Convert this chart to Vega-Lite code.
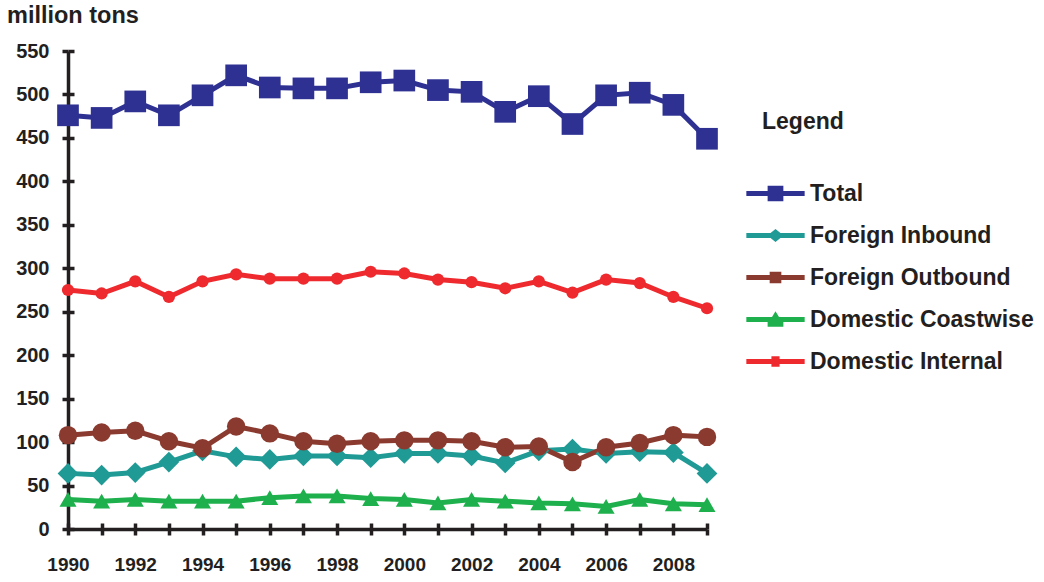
{
  "$schema": "https://vega.github.io/schema/vega-lite/v6.json",
  "width": 639,
  "height": 478,
  "autosize": {"type": "none"},
  "padding": {"left": 68, "top": 51, "right": 337, "bottom": 53},
  "background": "white",
  "config": {
    "view": {"stroke": null},
    "font": "Liberation Sans",
    "axis": {
      "domainColor": "#231F20",
      "domainWidth": 3.5,
      "tickColor": "#231F20",
      "tickWidth": 3.5,
      "tickSize": 6,
      "labelFont": "Liberation Sans",
      "labelFontWeight": "bold",
      "labelFontSize": 19,
      "labelColor": "#231F20",
      "grid": false
    }
  },
  "title": {
    "text": "million tons",
    "anchor": "start",
    "frame": "group",
    "dx": -61,
    "offset": 14,
    "font": "Liberation Sans",
    "fontSize": 23.5,
    "fontWeight": "bold",
    "color": "#231F20"
  },
  "data": {
    "values": [
      {"year": 1990, "series": "Total", "value": 476},
      {"year": 1991, "series": "Total", "value": 473},
      {"year": 1992, "series": "Total", "value": 492},
      {"year": 1993, "series": "Total", "value": 476},
      {"year": 1994, "series": "Total", "value": 499},
      {"year": 1995, "series": "Total", "value": 522},
      {"year": 1996, "series": "Total", "value": 508},
      {"year": 1997, "series": "Total", "value": 507},
      {"year": 1998, "series": "Total", "value": 507},
      {"year": 1999, "series": "Total", "value": 514},
      {"year": 2000, "series": "Total", "value": 516},
      {"year": 2001, "series": "Total", "value": 505},
      {"year": 2002, "series": "Total", "value": 503},
      {"year": 2003, "series": "Total", "value": 480},
      {"year": 2004, "series": "Total", "value": 498},
      {"year": 2005, "series": "Total", "value": 466},
      {"year": 2006, "series": "Total", "value": 499},
      {"year": 2007, "series": "Total", "value": 502},
      {"year": 2008, "series": "Total", "value": 488},
      {"year": 2009, "series": "Total", "value": 449},
      {"year": 1990, "series": "Foreign Inbound", "value": 64},
      {"year": 1991, "series": "Foreign Inbound", "value": 62},
      {"year": 1992, "series": "Foreign Inbound", "value": 65},
      {"year": 1993, "series": "Foreign Inbound", "value": 77},
      {"year": 1994, "series": "Foreign Inbound", "value": 90},
      {"year": 1995, "series": "Foreign Inbound", "value": 83},
      {"year": 1996, "series": "Foreign Inbound", "value": 80},
      {"year": 1997, "series": "Foreign Inbound", "value": 84},
      {"year": 1998, "series": "Foreign Inbound", "value": 84},
      {"year": 1999, "series": "Foreign Inbound", "value": 82},
      {"year": 2000, "series": "Foreign Inbound", "value": 87},
      {"year": 2001, "series": "Foreign Inbound", "value": 87},
      {"year": 2002, "series": "Foreign Inbound", "value": 84},
      {"year": 2003, "series": "Foreign Inbound", "value": 76},
      {"year": 2004, "series": "Foreign Inbound", "value": 90},
      {"year": 2005, "series": "Foreign Inbound", "value": 92},
      {"year": 2006, "series": "Foreign Inbound", "value": 87},
      {"year": 2007, "series": "Foreign Inbound", "value": 89},
      {"year": 2008, "series": "Foreign Inbound", "value": 88},
      {"year": 2009, "series": "Foreign Inbound", "value": 64},
      {"year": 1990, "series": "Foreign Outbound", "value": 108},
      {"year": 1991, "series": "Foreign Outbound", "value": 111},
      {"year": 1992, "series": "Foreign Outbound", "value": 113},
      {"year": 1993, "series": "Foreign Outbound", "value": 101},
      {"year": 1994, "series": "Foreign Outbound", "value": 93},
      {"year": 1995, "series": "Foreign Outbound", "value": 118},
      {"year": 1996, "series": "Foreign Outbound", "value": 110},
      {"year": 1997, "series": "Foreign Outbound", "value": 101},
      {"year": 1998, "series": "Foreign Outbound", "value": 98},
      {"year": 1999, "series": "Foreign Outbound", "value": 101},
      {"year": 2000, "series": "Foreign Outbound", "value": 102},
      {"year": 2001, "series": "Foreign Outbound", "value": 102},
      {"year": 2002, "series": "Foreign Outbound", "value": 101},
      {"year": 2003, "series": "Foreign Outbound", "value": 94},
      {"year": 2004, "series": "Foreign Outbound", "value": 95},
      {"year": 2005, "series": "Foreign Outbound", "value": 77},
      {"year": 2006, "series": "Foreign Outbound", "value": 94},
      {"year": 2007, "series": "Foreign Outbound", "value": 99},
      {"year": 2008, "series": "Foreign Outbound", "value": 108},
      {"year": 2009, "series": "Foreign Outbound", "value": 106},
      {"year": 1990, "series": "Domestic Coastwise", "value": 34},
      {"year": 1991, "series": "Domestic Coastwise", "value": 32},
      {"year": 1992, "series": "Domestic Coastwise", "value": 34},
      {"year": 1993, "series": "Domestic Coastwise", "value": 32},
      {"year": 1994, "series": "Domestic Coastwise", "value": 32},
      {"year": 1995, "series": "Domestic Coastwise", "value": 32},
      {"year": 1996, "series": "Domestic Coastwise", "value": 36},
      {"year": 1997, "series": "Domestic Coastwise", "value": 38},
      {"year": 1998, "series": "Domestic Coastwise", "value": 38},
      {"year": 1999, "series": "Domestic Coastwise", "value": 35},
      {"year": 2000, "series": "Domestic Coastwise", "value": 34},
      {"year": 2001, "series": "Domestic Coastwise", "value": 30},
      {"year": 2002, "series": "Domestic Coastwise", "value": 34},
      {"year": 2003, "series": "Domestic Coastwise", "value": 32},
      {"year": 2004, "series": "Domestic Coastwise", "value": 30},
      {"year": 2005, "series": "Domestic Coastwise", "value": 29},
      {"year": 2006, "series": "Domestic Coastwise", "value": 26},
      {"year": 2007, "series": "Domestic Coastwise", "value": 34},
      {"year": 2008, "series": "Domestic Coastwise", "value": 29},
      {"year": 2009, "series": "Domestic Coastwise", "value": 28},
      {"year": 1990, "series": "Domestic Internal", "value": 275},
      {"year": 1991, "series": "Domestic Internal", "value": 271},
      {"year": 1992, "series": "Domestic Internal", "value": 285},
      {"year": 1993, "series": "Domestic Internal", "value": 267},
      {"year": 1994, "series": "Domestic Internal", "value": 285},
      {"year": 1995, "series": "Domestic Internal", "value": 293},
      {"year": 1996, "series": "Domestic Internal", "value": 288},
      {"year": 1997, "series": "Domestic Internal", "value": 288},
      {"year": 1998, "series": "Domestic Internal", "value": 288},
      {"year": 1999, "series": "Domestic Internal", "value": 296},
      {"year": 2000, "series": "Domestic Internal", "value": 294},
      {"year": 2001, "series": "Domestic Internal", "value": 287},
      {"year": 2002, "series": "Domestic Internal", "value": 284},
      {"year": 2003, "series": "Domestic Internal", "value": 277},
      {"year": 2004, "series": "Domestic Internal", "value": 285},
      {"year": 2005, "series": "Domestic Internal", "value": 272},
      {"year": 2006, "series": "Domestic Internal", "value": 287},
      {"year": 2007, "series": "Domestic Internal", "value": 283},
      {"year": 2008, "series": "Domestic Internal", "value": 267},
      {"year": 2009, "series": "Domestic Internal", "value": 254}
    ]
  },
  "layer": [
    {
      "mark": {"type": "line", "strokeWidth": 5},
      "encoding": {
        "x": {
          "field": "year",
          "type": "quantitative",
          "scale": {"domain": [1990, 2009], "nice": false, "zero": false},
          "axis": {
            "title": null,
            "values": [1990, 1991, 1992, 1993, 1994, 1995, 1996, 1997, 1998, 1999, 2000, 2001, 2002, 2003, 2004, 2005, 2006, 2007, 2008, 2009],
            "labelExpr": "datum.value % 2 == 0 ? format(datum.value, 'd') : ''",
            "labelPadding": 20,
            "labelFlush": false,
            "labelOverlap": false
          }
        },
        "y": {
          "field": "value",
          "type": "quantitative",
          "scale": {"domain": [0, 550], "nice": false},
          "axis": {
            "title": null,
            "values": [0, 50, 100, 150, 200, 250, 300, 350, 400, 450, 500, 550],
            "labelPadding": 13,
            "labelFontSize": 20,
            "labelFlush": false,
            "labelOverlap": false
          }
        },
        "color": {
          "field": "series",
          "type": "nominal",
          "scale": {
            "domain": ["Total", "Foreign Inbound", "Foreign Outbound", "Domestic Coastwise", "Domestic Internal"],
            "range": ["#2E3192", "#1F9A95", "#8B3A2F", "#1DB04C", "#EE2A2E"]
          },
          "legend": {
            "title": "Legend",
            "orient": "none",
            "legendX": 694,
            "legendY": 60,
            "titleFont": "Liberation Sans",
            "titleFontSize": 23,
            "titleFontWeight": "bold",
            "titleColor": "#231F20",
            "titlePadding": 30,
            "labelFont": "Liberation Sans",
            "labelFontSize": 23,
            "labelFontWeight": "bold",
            "labelColor": "#231F20",
            "labelOffset": 5,
            "labelLimit": 0,
            "symbolType": "stroke",
            "symbolSize": 3400,
            "symbolStrokeWidth": 5,
            "symbolOffset": -16,
            "rowPadding": -11,
            "encode": {
              "symbols": {
                "update": {
                  "shape": {"signal": "datum.value == 'Total' ? 'M-1,-0.086H-0.27V-0.27H0.27V-0.086H1V0.086H0.27V0.27H-0.27V0.086H-1Z' : datum.value == 'Foreign Inbound' ? 'M-1,-0.086H-0.17L0,-0.22L0.17,-0.086H1V0.086H0.17L0,0.22L-0.17,0.086H-1Z' : datum.value == 'Foreign Outbound' ? 'M-1,-0.086H-0.2V-0.2H0.2V-0.086H1V0.086H0.2V0.2H-0.2V0.086H-1Z' : datum.value == 'Domestic Coastwise' ? 'M-1,-0.086H-0.12L0,-0.28L0.12,-0.086H1V0.086H0.27V0.25H-0.27V0.086H-1Z' : 'M-1,-0.086H-0.14V-0.18H0.14V-0.086H1V0.086H0.14V0.18H-0.14V0.086H-1Z'"},
                  "fill": {"signal": "scale('color', datum.value)"},
                  "strokeWidth": {"value": 0}
                }
              }
            }
          }
        }
      }
    },
    {
      "transform": [{"filter": "datum.series == 'Total'"}],
      "mark": {"type": "point", "filled": true, "opacity": 1, "shape": "square", "size": 470, "color": "#2E3192"},
      "encoding": {
        "x": {"field": "year", "type": "quantitative", "axis": null},
        "y": {"field": "value", "type": "quantitative", "axis": null}
      }
    },
    {
      "transform": [{"filter": "datum.series == 'Foreign Inbound'"}],
      "mark": {"type": "point", "filled": true, "opacity": 1, "shape": "diamond", "size": 430, "color": "#1F9A95"},
      "encoding": {
        "x": {"field": "year", "type": "quantitative", "axis": null},
        "y": {"field": "value", "type": "quantitative", "axis": null}
      }
    },
    {
      "transform": [{"filter": "datum.series == 'Foreign Outbound'"}],
      "mark": {"type": "point", "filled": true, "opacity": 1, "shape": "circle", "size": 340, "color": "#8B3A2F"},
      "encoding": {
        "x": {"field": "year", "type": "quantitative", "axis": null},
        "y": {"field": "value", "type": "quantitative", "axis": null}
      }
    },
    {
      "transform": [{"filter": "datum.series == 'Domestic Coastwise'"}],
      "mark": {"type": "point", "filled": true, "opacity": 1, "shape": "triangle-up", "size": 290, "color": "#1DB04C"},
      "encoding": {
        "x": {"field": "year", "type": "quantitative", "axis": null},
        "y": {"field": "value", "type": "quantitative", "axis": null}
      }
    },
    {
      "transform": [{"filter": "datum.series == 'Domestic Internal'"}],
      "mark": {"type": "point", "filled": true, "opacity": 1, "shape": "circle", "size": 150, "color": "#EE2A2E"},
      "encoding": {
        "x": {"field": "year", "type": "quantitative", "axis": null},
        "y": {"field": "value", "type": "quantitative", "axis": null}
      }
    },
    {
      "mark": {"type": "point", "opacity": 0},
      "encoding": {
        "x": {
          "field": "year",
          "type": "quantitative",
          "axis": {
            "orient": "bottom",
            "title": null,
            "labels": false,
            "domain": false,
            "tickSize": -6,
            "values": [1990, 1991, 1992, 1993, 1994, 1995, 1996, 1997, 1998, 1999, 2000, 2001, 2002, 2003, 2004, 2005, 2006, 2007, 2008, 2009]
          }
        },
        "y": {
          "field": "value",
          "type": "quantitative",
          "axis": {
            "orient": "left",
            "title": null,
            "labels": false,
            "domain": false,
            "tickSize": -6,
            "values": [0, 50, 100, 150, 200, 250, 300, 350, 400, 450, 500, 550]
          }
        }
      }
    }
  ],
  "resolve": {"axis": {"x": "independent", "y": "independent"}}
}
